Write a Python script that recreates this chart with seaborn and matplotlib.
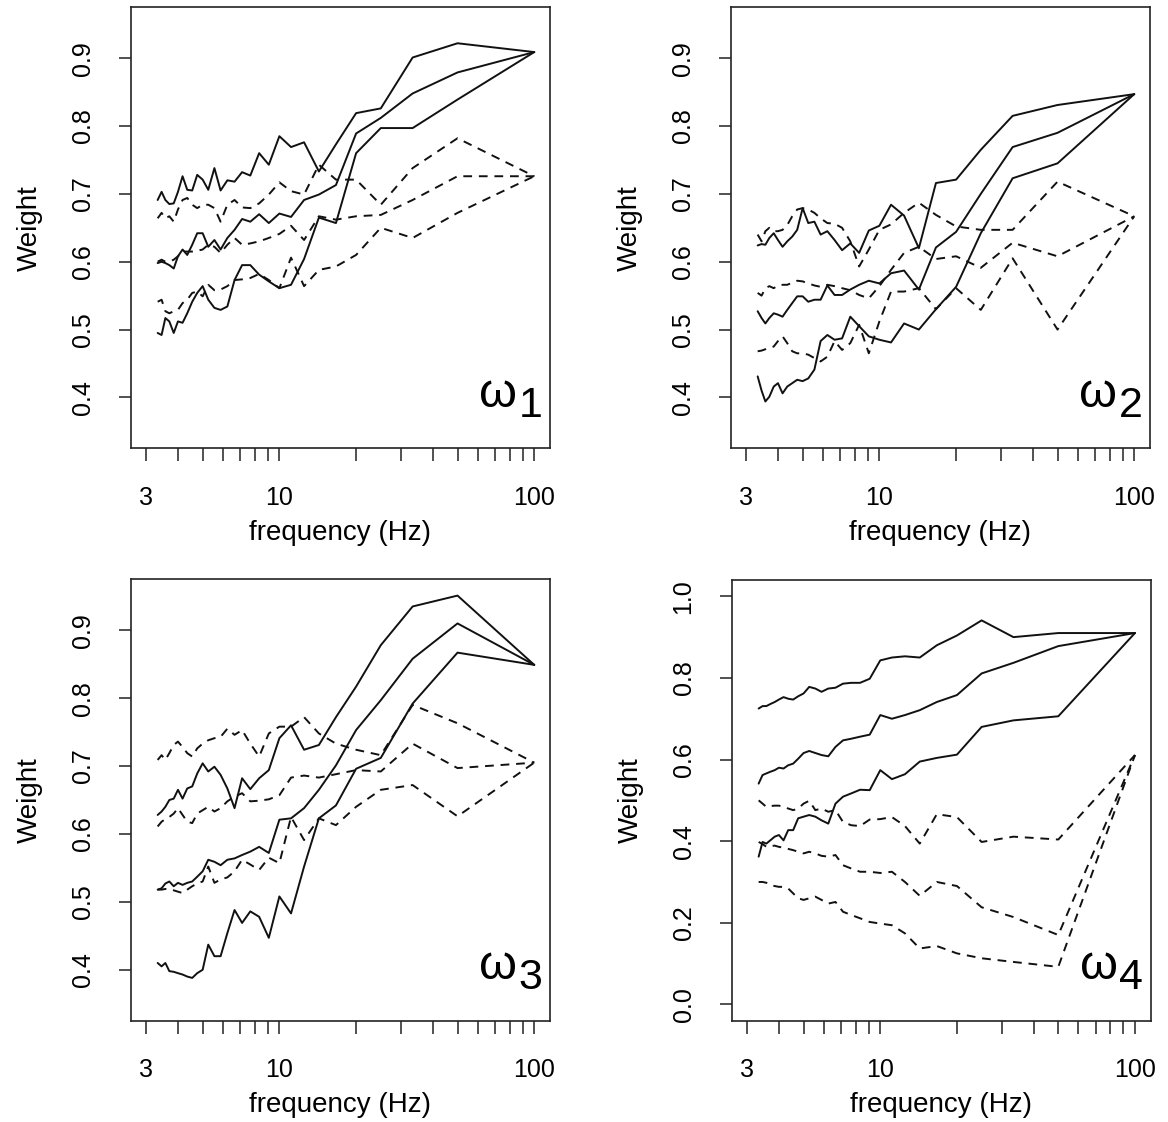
import matplotlib
matplotlib.use("Agg")
import matplotlib.pyplot as plt
import numpy as np
import pandas as pd
import seaborn as sns

# frequency grid (Hz), one value per band, highest first
freqs = [100, 50, 33.33, 25, 20, 16.67, 14.29, 12.5, 11.11, 10,
         9.09, 8.33, 7.69, 7.14, 6.67, 6.25, 5.88, 5.56, 5.26, 5,
         4.76, 4.55, 4.35, 4.17, 4, 3.85, 3.7, 3.57, 3.45, 3.33]

# panel 1 (omega 1)
p1_solid_a = [0.909, 0.922, 0.901, 0.826, 0.819, 0.773, 0.733, 0.776, 0.769, 0.785,
              0.743, 0.760, 0.727, 0.732, 0.718, 0.720, 0.705, 0.738, 0.706, 0.721,
              0.728, 0.705, 0.706, 0.726, 0.703, 0.686, 0.685, 0.691, 0.703, 0.691]
p1_solid_b = [0.909, 0.879, 0.848, 0.812, 0.789, 0.713, 0.699, 0.691, 0.666, 0.671,
              0.657, 0.670, 0.659, 0.663, 0.647, 0.635, 0.618, 0.632, 0.622, 0.642,
              0.642, 0.625, 0.610, 0.618, 0.608, 0.590, 0.595, 0.598, 0.600, 0.598]
p1_solid_c = [0.909, 0.839, 0.797, 0.797, 0.760, 0.657, 0.665, 0.604, 0.566, 0.561,
              0.571, 0.581, 0.595, 0.595, 0.573, 0.534, 0.529, 0.532, 0.544, 0.564,
              0.554, 0.541, 0.524, 0.510, 0.512, 0.495, 0.512, 0.517, 0.492, 0.495]
p1_dash_a = [0.726, 0.782, 0.738, 0.684, 0.721, 0.721, 0.743, 0.699, 0.704, 0.717,
             0.699, 0.686, 0.679, 0.680, 0.691, 0.684, 0.659, 0.679, 0.684, 0.684,
             0.679, 0.684, 0.694, 0.691, 0.677, 0.659, 0.667, 0.664, 0.672, 0.664]
p1_dash_b = [0.726, 0.726, 0.691, 0.669, 0.667, 0.662, 0.667, 0.632, 0.653, 0.641,
             0.635, 0.630, 0.627, 0.625, 0.635, 0.625, 0.613, 0.622, 0.625, 0.618,
             0.616, 0.615, 0.615, 0.615, 0.608, 0.603, 0.600, 0.600, 0.603, 0.600]
p1_dash_c = [0.726, 0.672, 0.635, 0.650, 0.610, 0.593, 0.588, 0.564, 0.606, 0.561,
             0.573, 0.582, 0.576, 0.574, 0.573, 0.564, 0.559, 0.558, 0.566, 0.549,
             0.556, 0.554, 0.544, 0.539, 0.529, 0.527, 0.524, 0.527, 0.544, 0.541]

# panel 2 (omega 2)
p2_solid_a = [0.847, 0.831, 0.815, 0.765, 0.721, 0.716, 0.620, 0.668, 0.684, 0.653,
              0.646, 0.613, 0.627, 0.617, 0.632, 0.645, 0.640, 0.659, 0.657, 0.679,
              0.647, 0.637, 0.630, 0.622, 0.632, 0.642, 0.635, 0.625, 0.626, 0.624]
p2_solid_b = [0.847, 0.790, 0.769, 0.700, 0.644, 0.621, 0.559, 0.587, 0.583, 0.568,
              0.572, 0.566, 0.559, 0.551, 0.551, 0.565, 0.544, 0.544, 0.541, 0.549,
              0.549, 0.539, 0.529, 0.519, 0.522, 0.524, 0.517, 0.509, 0.517, 0.527]
p2_solid_c = [0.847, 0.745, 0.723, 0.642, 0.563, 0.530, 0.500, 0.509, 0.481, 0.485,
              0.490, 0.505, 0.519, 0.487, 0.485, 0.492, 0.483, 0.441, 0.428, 0.424,
              0.426, 0.421, 0.416, 0.406, 0.421, 0.416, 0.401, 0.394, 0.410, 0.431]
p2_dash_a = [0.667, 0.718, 0.647, 0.647, 0.652, 0.669, 0.687, 0.672, 0.655, 0.647,
             0.618, 0.593, 0.630, 0.650, 0.656, 0.657, 0.664, 0.672, 0.677, 0.679,
             0.677, 0.667, 0.654, 0.647, 0.645, 0.645, 0.650, 0.645, 0.630, 0.640]
p2_dash_b = [0.667, 0.608, 0.628, 0.591, 0.608, 0.604, 0.622, 0.613, 0.588, 0.564,
             0.546, 0.551, 0.558, 0.561, 0.564, 0.566, 0.563, 0.565, 0.568, 0.571,
             0.572, 0.569, 0.566, 0.566, 0.565, 0.561, 0.564, 0.561, 0.550, 0.554]
p2_dash_c = [0.667, 0.500, 0.605, 0.529, 0.561, 0.530, 0.561, 0.556, 0.556, 0.512,
             0.465, 0.507, 0.480, 0.470, 0.483, 0.460, 0.453, 0.458, 0.463, 0.465,
             0.465, 0.468, 0.480, 0.490, 0.483, 0.475, 0.473, 0.471, 0.469, 0.468]

# panel 3 (omega 3)
p3_solid_a = [0.849, 0.951, 0.935, 0.878, 0.817, 0.772, 0.731, 0.724, 0.760, 0.741,
              0.694, 0.682, 0.666, 0.682, 0.638, 0.667, 0.687, 0.699, 0.692, 0.704,
              0.689, 0.670, 0.667, 0.652, 0.665, 0.652, 0.650, 0.640, 0.633, 0.628]
p3_solid_b = [0.849, 0.910, 0.858, 0.797, 0.753, 0.701, 0.665, 0.638, 0.623, 0.621,
              0.572, 0.581, 0.574, 0.569, 0.564, 0.562, 0.554, 0.559, 0.562, 0.545,
              0.537, 0.530, 0.528, 0.525, 0.528, 0.523, 0.530, 0.527, 0.520, 0.518]
p3_solid_c = [0.849, 0.867, 0.792, 0.712, 0.696, 0.642, 0.623, 0.552, 0.483, 0.508,
              0.447, 0.478, 0.486, 0.469, 0.488, 0.454, 0.420, 0.420, 0.437, 0.400,
              0.395, 0.388, 0.390, 0.393, 0.395, 0.397, 0.398, 0.410, 0.405, 0.410]
p3_dash_a = [0.705, 0.763, 0.790, 0.716, 0.724, 0.733, 0.748, 0.772, 0.758, 0.758,
             0.748, 0.714, 0.733, 0.753, 0.746, 0.755, 0.743, 0.741, 0.738, 0.733,
             0.726, 0.714, 0.719, 0.728, 0.736, 0.731, 0.719, 0.709, 0.716, 0.709]
p3_dash_b = [0.705, 0.697, 0.733, 0.692, 0.694, 0.688, 0.683, 0.686, 0.683, 0.657,
             0.651, 0.649, 0.648, 0.660, 0.655, 0.648, 0.638, 0.633, 0.640, 0.635,
             0.630, 0.616, 0.618, 0.628, 0.638, 0.630, 0.625, 0.622, 0.618, 0.611]
p3_dash_c = [0.705, 0.626, 0.672, 0.665, 0.640, 0.613, 0.623, 0.591, 0.625, 0.557,
             0.565, 0.547, 0.555, 0.562, 0.545, 0.536, 0.533, 0.528, 0.552, 0.530,
             0.527, 0.523, 0.518, 0.513, 0.515, 0.517, 0.519, 0.519, 0.518, 0.518]

# panel 4 (omega 4)
p4_solid_a = [0.910, 0.910, 0.900, 0.941, 0.904, 0.880, 0.850, 0.853, 0.850, 0.843,
              0.798, 0.788, 0.788, 0.786, 0.776, 0.774, 0.766, 0.774, 0.778, 0.762,
              0.755, 0.747, 0.749, 0.753, 0.747, 0.741, 0.736, 0.731, 0.731, 0.725]
p4_solid_b = [0.910, 0.878, 0.837, 0.811, 0.758, 0.741, 0.721, 0.709, 0.700, 0.709,
              0.661, 0.656, 0.651, 0.647, 0.631, 0.608, 0.611, 0.616, 0.621, 0.616,
              0.602, 0.590, 0.586, 0.578, 0.580, 0.574, 0.570, 0.566, 0.562, 0.541]
p4_solid_c = [0.910, 0.706, 0.696, 0.680, 0.612, 0.604, 0.595, 0.564, 0.552, 0.574,
              0.525, 0.526, 0.517, 0.509, 0.492, 0.443, 0.451, 0.460, 0.464, 0.460,
              0.456, 0.427, 0.427, 0.402, 0.415, 0.411, 0.402, 0.394, 0.398, 0.362]
p4_dash_a = [0.611, 0.404, 0.411, 0.398, 0.459, 0.466, 0.394, 0.437, 0.459, 0.454,
             0.453, 0.437, 0.439, 0.447, 0.476, 0.472, 0.480, 0.476, 0.499, 0.492,
             0.480, 0.476, 0.480, 0.484, 0.487, 0.487, 0.486, 0.484, 0.492, 0.500]
p4_dash_b = [0.611, 0.170, 0.214, 0.238, 0.290, 0.300, 0.266, 0.300, 0.325, 0.322,
             0.325, 0.325, 0.333, 0.341, 0.366, 0.362, 0.364, 0.370, 0.374, 0.370,
             0.374, 0.378, 0.381, 0.384, 0.386, 0.389, 0.388, 0.386, 0.393, 0.398]
p4_dash_c = [0.611, 0.092, 0.104, 0.113, 0.125, 0.143, 0.137, 0.174, 0.194, 0.198,
             0.202, 0.211, 0.219, 0.227, 0.251, 0.247, 0.256, 0.264, 0.260, 0.256,
             0.260, 0.272, 0.284, 0.288, 0.288, 0.290, 0.292, 0.298, 0.300, 0.300]

panels = [
    ("1", [p1_solid_a, p1_solid_b, p1_solid_c], [p1_dash_a, p1_dash_b, p1_dash_c]),
    ("2", [p2_solid_a, p2_solid_b, p2_solid_c], [p2_dash_a, p2_dash_b, p2_dash_c]),
    ("3", [p3_solid_a, p3_solid_b, p3_solid_c], [p3_dash_a, p3_dash_b, p3_dash_c]),
    ("4", [p4_solid_a, p4_solid_b, p4_solid_c], [p4_dash_a, p4_dash_b, p4_dash_c]),
]

ytick_sets = [
    [0.4, 0.5, 0.6, 0.7, 0.8, 0.9],
    [0.4, 0.5, 0.6, 0.7, 0.8, 0.9],
    [0.4, 0.5, 0.6, 0.7, 0.8, 0.9],
    [0.0, 0.2, 0.4, 0.6, 0.8, 1.0],
]
ylims = [(0.325, 0.975), (0.325, 0.975), (0.325, 0.975), (-0.04, 1.04)]
xticks = [3, 4, 5, 6, 7, 8, 9, 10, 20, 30, 40, 50, 60, 70, 80, 90, 100]
xlabels = ["3", "", "", "", "", "", "", "10", "", "", "", "", "", "", "", "", "100"]

sns.set_style("ticks")
plt.rcParams["font.family"] = ["Liberation Sans", "DejaVu Sans"]
plt.rcParams["text.color"] = "black"
plt.rcParams["axes.labelcolor"] = "black"
plt.rcParams["xtick.color"] = "black"
plt.rcParams["ytick.color"] = "black"

W, H = 1168, 1122
fig = plt.figure(figsize=(W / 100, H / 100), dpi=100)

# axes boxes in pixels: left, top, right, bottom
boxes = [
    (130.7, 7.3, 550.0, 448.3),
    (730.7, 7.3, 1150.0, 448.3),
    (130.7, 579.3, 550.0, 1020.7),
    (731.7, 580.0, 1150.7, 1020.7),
]

for (label, solids, dashes), (l, t, r, b), yticks, ylim in zip(panels, boxes, ytick_sets, ylims):
    ax = fig.add_axes([l / W, 1 - b / H, (r - l) / W, (b - t) / H])

    rows = []
    for i, vals in enumerate(solids):
        for f, v in zip(freqs, vals):
            rows.append({"freq": f, "weight": v, "curve": f"s{i}", "kind": "solid"})
    for i, vals in enumerate(dashes):
        for f, v in zip(freqs, vals):
            rows.append({"freq": f, "weight": v, "curve": f"d{i}", "kind": "dashed"})
    df = pd.DataFrame(rows)

    sns.lineplot(
        data=df, x="freq", y="weight", units="curve", style="kind",
        dashes={"solid": "", "dashed": (4.5, 3.5)}, estimator=None,
        color="#111111", linewidth=1.4, legend=False, ax=ax,
    )

    ax.set_xscale("log")
    ax.set_xlim(2.61, 115.3)
    ax.set_ylim(*ylim)
    ax.set_xticks(xticks)
    ax.set_xticklabels(xlabels)
    ax.xaxis.set_minor_locator(matplotlib.ticker.NullLocator())
    ax.set_yticks(yticks)
    ax.set_yticklabels([f"{y:.1f}" for y in yticks])
    ax.tick_params(axis="both", length=9, width=1.1, color="#222222",
                   labelsize=18, pad=18)
    ax.tick_params(axis="y", labelrotation=90, pad=17)
    for lab in ax.get_yticklabels():
        lab.set_va("center")
    for s in ax.spines.values():
        s.set_color("#222222")
        s.set_linewidth(1.2)

    ax.set_xlabel("frequency (Hz)", fontsize=20, labelpad=7)
    ax.set_ylabel("Weight", fontsize=20, labelpad=20)

    ax.text(0.921, 0.094, "\u03c9", transform=ax.transAxes, fontsize=35,
            ha="right", va="baseline")
    ax.text(0.925, 0.071, label, transform=ax.transAxes, fontsize=31,
            ha="left", va="baseline")

fig.savefig("out.png", dpi=100)
